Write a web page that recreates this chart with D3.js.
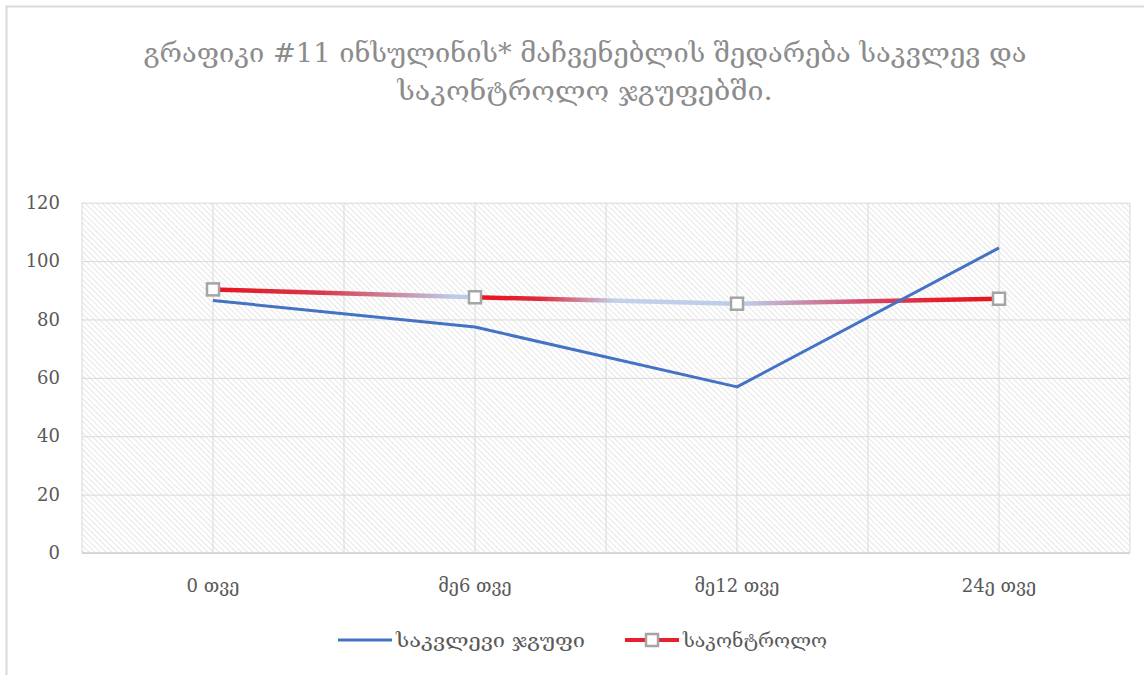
<!DOCTYPE html>
<html><head><meta charset="utf-8">
<script src="https://cdn.jsdelivr.net/npm/d3@7"></script>
<style>
html,body{margin:0;padding:0;background:#fff;}
svg text{font-family:"DejaVu Serif","Liberation Serif",serif;}
</style></head>
<body>
<svg id="chart" width="1144" height="675"></svg>
<script>
const titleLines = ["გრაფიკი #11 ინსულინის* მაჩვენებლის შედარება საკვლევ და", "საკონტროლო ჯგუფებში."];
const categories = ["0 თვე", "მე6 თვე", "მე12 თვე", "24ე თვე"];
const seriesNames = ["საკვლევი ჯგუფი", "საკონტროლო"];
const studyGroup = [86.5, 77.4, 56.9, 104.5];
const controlGroup = [90.3, 87.6, 85.4, 87.1];
const yTicks = [0, 20, 40, 60, 80, 100, 120];

const svg = d3.select("#chart");
const W = 1144, H = 675;
const m = {left: 82, right: 1130, top: 202.7, bottom: 553};

// chart border
svg.append("rect").attr("x", 6.5).attr("y", 6.5).attr("width", W + 10).attr("height", H + 10)
  .attr("fill", "#fff").attr("stroke", "#d9d9d9").attr("stroke-width", 2);

const defs = svg.append("defs");
const pat = defs.append("pattern").attr("id", "hatch").attr("patternUnits", "userSpaceOnUse")
  .attr("width", 4).attr("height", 4).attr("patternTransform", "rotate(-45)");
pat.append("rect").attr("width", 4).attr("height", 4).attr("fill", "#ffffff");
pat.append("line").attr("x1", 0).attr("y1", 0).attr("x2", 0).attr("y2", 4)
  .attr("stroke", "#dedede").attr("stroke-width", 1.5);

const x = d3.scaleBand().domain(categories).range([m.left, m.right]);
const y = d3.scaleLinear().domain([0, 120]).range([m.bottom, m.top]);
const cx = d => x(d) + x.bandwidth() / 2;

// plot area
svg.append("rect").attr("x", m.left).attr("y", m.top).attr("width", m.right - m.left)
  .attr("height", m.bottom - m.top).attr("fill", "url(#hatch)");

// gridlines
const gy = d3.axisLeft(y).tickValues(yTicks).tickSize(-(m.right - m.left)).tickFormat("");
const gyG = svg.append("g").attr("transform", `translate(${m.left},0)`).call(gy);
gyG.select(".domain").remove();
gyG.selectAll("line").attr("stroke", "#d9d9d9").attr("stroke-width", 1);

const halfSteps = [];
categories.forEach(c => { halfSteps.push(x(c)); halfSteps.push(cx(c)); });
halfSteps.push(m.right);
svg.append("g").selectAll("line").data(halfSteps).join("line")
  .attr("x1", d => d).attr("x2", d => d).attr("y1", m.top).attr("y2", m.bottom)
  .attr("stroke", "#d9d9d9").attr("stroke-width", 1);

// axis baseline
svg.append("line").attr("x1", m.left).attr("x2", m.right).attr("y1", m.bottom).attr("y2", m.bottom)
  .attr("stroke", "#d0d0d0").attr("stroke-width", 1.5);

// y tick labels
const ya = d3.axisLeft(y).tickValues(yTicks).tickSize(0).tickPadding(22);
const yaG = svg.append("g").attr("transform", `translate(${m.left},0)`).call(ya);
yaG.select(".domain").remove();
yaG.selectAll("text").attr("font-size", 18).attr("fill", "#595959")
  .style("font-family", '"DejaVu Serif",serif');

// x tick labels
const xa = d3.axisBottom(x).tickSize(0).tickPadding(26);
const xaG = svg.append("g").attr("transform", `translate(0,${m.bottom})`).call(xa);
xaG.select(".domain").remove();
xaG.selectAll("text").attr("font-size", 18).attr("fill", "#595959")
  .style("font-family", '"DejaVu Serif",serif');

// gradient for control line
const grad = defs.append("linearGradient").attr("id", "ctrlGrad").attr("gradientUnits", "userSpaceOnUse")
  .attr("x1", cx(categories[0])).attr("x2", cx(categories[3])).attr("y1", 0).attr("y2", 0);
const span = cx(categories[3]) - cx(categories[0]);
const off = px => (px - cx(categories[0])) / span;
[[cx(categories[0]), "#e8141e"], [320, "#d8384a"], [455, "#bccde9"], [472, "#bccde9"],
 [482, "#e8141e"], [540, "#e02a3a"], [615, "#c3d1ea"], [745, "#bccde9"],
 [860, "#d25070"], [940, "#e61e2c"], [cx(categories[3]), "#e8141e"]]
 .forEach(([p, c]) => grad.append("stop").attr("offset", off(p)).attr("stop-color", c));

const line = d3.line().x((d, i) => cx(categories[i])).y(d => y(d));

svg.append("path").datum(controlGroup).attr("d", line).attr("fill", "none")
  .attr("stroke", "url(#ctrlGrad)").attr("stroke-width", 4.5).attr("stroke-linejoin", "round");

svg.append("path").datum(studyGroup).attr("d", line).attr("fill", "none")
  .attr("stroke", "#4472c4").attr("stroke-width", 3).attr("stroke-linejoin", "round");

svg.append("g").selectAll("rect").data(controlGroup).join("rect")
  .attr("x", (d, i) => cx(categories[i]) - 6).attr("y", d => y(d) - 6)
  .attr("width", 12).attr("height", 12).attr("fill", "#fff")
  .attr("stroke", "#a5a5a5").attr("stroke-width", 2.5);

// title
const titleWidths = [883, 375];
svg.append("g").selectAll("text").data(titleLines).join("text")
  .attr("x", 585).attr("y", (d, i) => 62 + i * 38).attr("text-anchor", "middle")
  .attr("font-size", 26).attr("fill", "#8c8c8c")
  .attr("textLength", (d, i) => titleWidths[i]).attr("lengthAdjust", "spacingAndGlyphs")
  .text(d => d);

// legend
const lg = svg.append("g");
lg.append("line").attr("x1", 338).attr("x2", 392).attr("y1", 640).attr("y2", 640)
  .attr("stroke", "#4472c4").attr("stroke-width", 3);
lg.append("text").attr("x", 396).attr("y", 647).attr("font-size", 19).attr("fill", "#595959")
  .attr("textLength", 189).attr("lengthAdjust", "spacingAndGlyphs").text(seriesNames[0]);
lg.append("line").attr("x1", 625).attr("x2", 679).attr("y1", 640).attr("y2", 640)
  .attr("stroke", "#e8202e").attr("stroke-width", 4);
lg.append("rect").attr("x", 646).attr("y", 634).attr("width", 12).attr("height", 12)
  .attr("fill", "#fff").attr("stroke", "#a5a5a5").attr("stroke-width", 2.5);
lg.append("text").attr("x", 683).attr("y", 647).attr("font-size", 19).attr("fill", "#595959")
  .attr("textLength", 144).attr("lengthAdjust", "spacingAndGlyphs").text(seriesNames[1]);
</script>
</body></html>
